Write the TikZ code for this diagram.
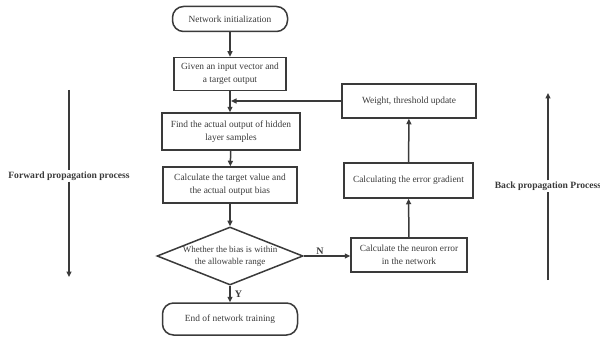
\documentclass[tikz,border=0pt]{standalone}
\usepackage{fontspec}
\setmainfont{Liberation Serif}
\usepackage{tikz}
\usetikzlibrary{arrows.meta,shapes.geometric}
\definecolor{linegray}{HTML}{3A3A3A}
\tikzset{>/.tip={Triangle[length=5.5pt,width=5pt]},
  boxnode/.style={draw=linegray, line width=1.5pt, text=linegray, align=center,
    inner sep=0pt, font=\fontsize{9.4}{13}\selectfont},
  endnode/.style={boxnode, rounded corners=11pt},
  testnode/.style={draw=linegray, line width=1.5pt, text=linegray, align=center,
    shape=diamond, aspect=2.5, inner sep=0pt, minimum width=146pt, minimum height=58pt,
    font=\fontsize{9}{12}\selectfont},
  sidelabel/.style={text=linegray, font=\bfseries\fontsize{9.6}{11}\selectfont, inner sep=1pt},
  flow/.style={->, draw=linegray, line width=1.5pt}}

\begin{document}
\begin{tikzpicture}[x=1pt, y=-1pt]
\useasboundingbox (0,0) rectangle (600,345);
\node[endnode, minimum width=115pt, minimum height=25pt] (init) at (230,19) {Network initialization};
\node[boxnode, minimum width=112pt, minimum height=33pt] (input) at (230,74) {Given an input vector and\\a target output};
\node[boxnode, minimum width=138pt, minimum height=37pt] (find) at (231,131.5) {Find the actual output of hidden\\layer samples};
\node[boxnode, minimum width=134pt, minimum height=36pt] (calc) at (230,185) {Calculate the target value and\\the actual output bias};
\node[testnode] (test) at (230,256) {Whether the bias is within\\the allowable range};
\node[endnode, minimum width=135pt, minimum height=32pt] (end) at (230,319) {End of network training};

\node[boxnode, minimum width=116pt, minimum height=34pt] (neuron) at (409,255) {Calculate the neuron error\\in the network};
\node[boxnode, minimum width=129pt, minimum height=35pt] (grad) at (408.5,180.5) {Calculating the error gradient};
\node[boxnode, minimum width=134pt, minimum height=34pt] (weight) at (409,101) {Weight, threshold update};
\coordinate (join) at (231,101);

\draw[flow] (init) -- (input);
\draw[flow] (input) -- (input |- find.north);
\draw[flow] (find) -- (calc);
\draw[flow] (calc) -- (test);
\draw[flow] (test) -- node[right, sidelabel, xshift=3pt, font=\bfseries\fontsize{10}{11}\selectfont] {Y} (end);
\draw[flow] (test.east) -- node[above, sidelabel, font=\bfseries\fontsize{10}{11}\selectfont, pos=0.35] {N} (neuron.west |- test.east);
\draw[flow] (neuron) -- (grad);
\draw[flow] (grad) -- (weight);
\draw[flow] (weight.west) -- (join);

% side arrows
\coordinate (fwdtop) at (69,90);
\coordinate (fwdbot) at (69,277);
\node[sidelabel] (fwd) at (69,176) {Forward propagation process};
\draw[draw=linegray, line width=1.5pt] (fwdtop) -- (fwd);
\draw[flow] (fwd) -- (fwdbot);
\coordinate (backtop) at (548,93);
\coordinate (backbot) at (548,280);
\node[sidelabel] (back) at (548,186) {Back propagation Process};
\draw[draw=linegray, line width=1.5pt] (backbot) -- (back);
\draw[flow] (back) -- (backtop);
\end{tikzpicture}
\end{document}
